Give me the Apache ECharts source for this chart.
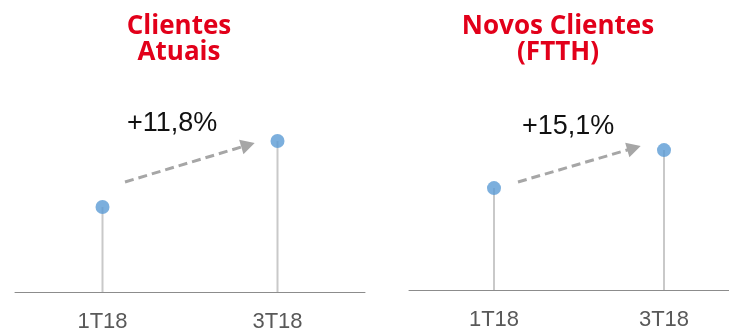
<!DOCTYPE html>
<html>
<head>
<meta charset="utf-8">
<script src="https://cdn.jsdelivr.net/npm/echarts@6/dist/echarts.min.js"></script>
<style>
  html, body { margin: 0; padding: 0; background: #ffffff; }
  #chart { width: 729px; height: 331px; }
</style>
</head>
<body>
<div id="chart"></div>
<script>
// Quarters shown on both panels
const quarters = ['1T18', '3T18'];

// Client base, indexed to 1T18 = 100
const clientesAtuais = [100, 111.8];
// New FTTH clients, indexed to 1T18 = 100
const novosClientesFTTH = [100, 115.1];

// Growth labels shown above the trend arrows
const growthLabels = ['+11,8%', '+15,1%'];
const panelTitles = ['Clientes\nAtuais', 'Novos Clientes\n(FTTH)'];

const RED = '#e2001a';
const DOT = '#5b9bd5';
const STEM = '#c9c9c9';
const ARROW = '#a6a6a6';

const chart = echarts.init(document.getElementById('chart'), null, { renderer: 'canvas' });

function xAxisFor(gridIndex) {
  return {
    type: 'category',
    gridIndex,
    data: quarters,
    boundaryGap: true,
    axisLine: { show: true, lineStyle: { color: '#8c8c8c', width: 1 } },
    axisTick: { show: false },
    axisLabel: {
      color: '#595959', fontSize: 22, fontFamily: 'Liberation Sans, Arial, sans-serif',
      margin: 19
    },
    splitLine: { show: false }
  };
}

function yAxisFor(gridIndex, min, max) {
  return {
    type: 'value', gridIndex, min, max, show: false,
    splitLine: { show: false }
  };
}

function stemSeries(idx, data) {
  return {
    type: 'bar', xAxisIndex: idx, yAxisIndex: idx, data,
    barWidth: 2, clip: true, silent: true,
    itemStyle: { color: STEM }
  };
}

function dotSeries(idx, data, arrowFrom, arrowTo) {
  return {
    type: 'scatter', xAxisIndex: idx, yAxisIndex: idx, data,
    symbolSize: 14, z: 5,
    itemStyle: { color: DOT },
    markLine: {
      silent: true,
      symbol: ['none', 'triangle'],
      symbolSize: [15, 14],
      label: { show: false },
      lineStyle: { color: ARROW, type: [9, 5], width: 3 },
      data: [[{ x: arrowFrom[0], y: arrowFrom[1] }, { x: arrowTo[0], y: arrowTo[1] }]]
    }
  };
}

const titleStyle = {
  color: RED, fontSize: 26, fontWeight: 'bold',
  fontFamily: 'Open Sans, sans-serif', lineHeight: 26
};
const growthStyle = {
  fill: '#111111', fontSize: 27, fontFamily: 'Liberation Sans, Arial, sans-serif'
};

chart.setOption({
  animation: false,
  backgroundColor: '#ffffff',
  title: [
    { text: panelTitles[0], left: 174, top: 9, textAlign: 'center', textStyle: titleStyle },
    { text: panelTitles[1], left: 553, top: 9, textAlign: 'center', textStyle: titleStyle }
  ],
  grid: [
    { left: 15, width: 350, top: 60, bottom: 39, outerBoundsMode: 'none' },
    { left: 409, width: 340, top: 60, bottom: 41, outerBoundsMode: 'none' }
  ],
  xAxis: [xAxisFor(0), xAxisFor(1)],
  yAxis: [yAxisFor(0, 84.8, 126.3), yAxisFor(1, 59.5, 150.9)],
  graphic: [
    { type: 'text', left: 127, top: 110, style: Object.assign({ text: growthLabels[0] }, growthStyle) },
    { type: 'text', left: 522, top: 113, style: Object.assign({ text: growthLabels[1] }, growthStyle) }
  ],
  series: [
    stemSeries(0, clientesAtuais),
    dotSeries(0, clientesAtuais, [125, 182], [248, 145]),
    stemSeries(1, novosClientesFTTH),
    dotSeries(1, novosClientesFTTH, [518, 182], [634, 148])
  ]
});
</script>
</body>
</html>
